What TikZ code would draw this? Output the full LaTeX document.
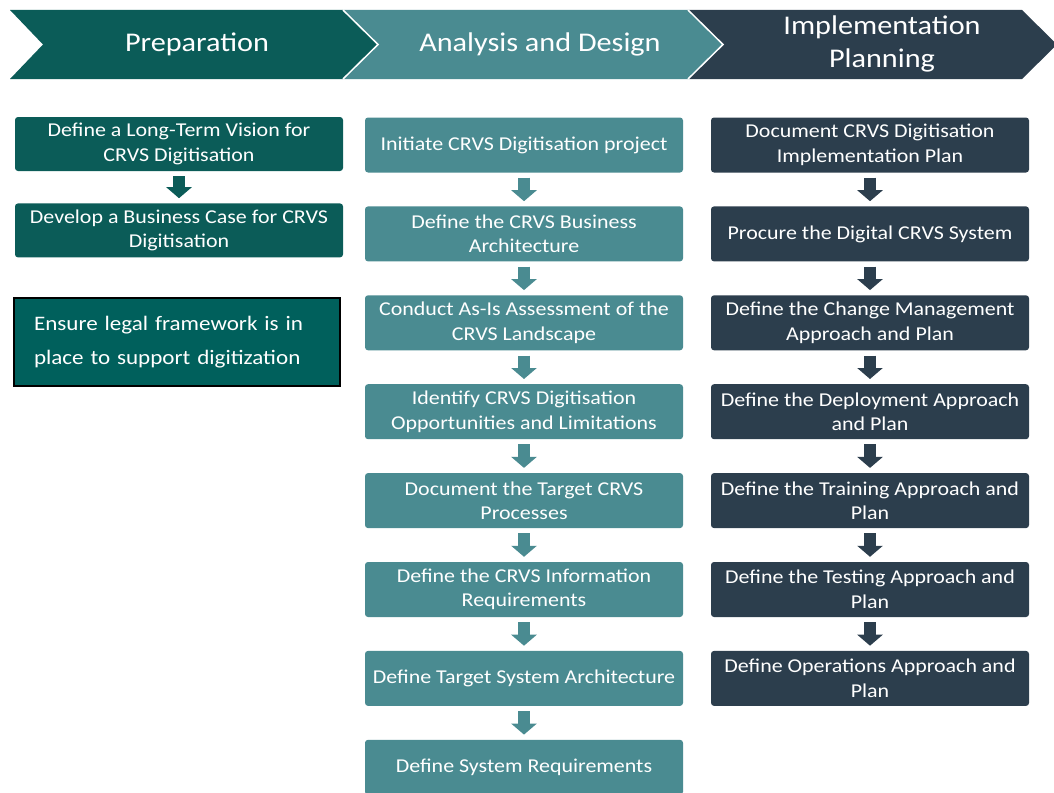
\documentclass[tikz,border=0pt]{standalone}
\usepackage{fontspec}
\setmainfont{Carlito}[FakeStretch=1.12]
\usepackage{xcolor}
\usetikzlibrary{positioning,arrows.meta}
\definecolor{prepcol}{HTML}{0B5C58}
\definecolor{anacol}{HTML}{4A8B91}
\definecolor{implcol}{HTML}{2C3E4D}
\definecolor{legalcol}{HTML}{00605C}

\begin{document}
\begin{tikzpicture}[x=1pt,y=-1pt,
  box/.style={fill=#1,text=white,rounded corners=3pt,minimum width=318pt,minimum height=55pt,
    align=center,inner sep=2pt,font=\fontsize{19.6}{24.5}\selectfont},
  down/.style={draw=#1,line width=12pt,shorten <=5pt,shorten >=5pt,-{Triangle[width=25pt,length=11pt]}},
  head/.style={text=white,align=center,font=\fontsize{27}{33}\selectfont}]
\useasboundingbox (0,0) rectangle (1054,792);
% header chevrons
\fill[prepcol] (10,10)--(343,10)--(378,44.5)--(343,79)--(10,79)--(43,44.5)--cycle;
\fill[anacol] (343,10)--(688,10)--(723,44.5)--(688,79)--(343,79)--(378,44.5)--cycle;
\fill[implcol] (688,10)--(1022,10)--(1057,44.5)--(1022,79)--(688,79)--(723,44.5)--cycle;
\draw[white,line width=1.5pt] (343,10)--(378,44.5)--(343,79) (688,10)--(723,44.5)--(688,79);
\node[head] (hprep) at (197,44) {Preparation};
\node[head] (hana) at (540,44) {Analysis and Design};
\node[head] (himpl) at (882,44) {Implementation\\Planning};
% preparation
\node[box=prepcol,minimum height=54pt,minimum width=328pt] (prep1) at (179,144) {Define a Long-Term Vision for\\CRVS Digitisation};
\node[box=prepcol,minimum height=54pt,minimum width=328pt,below=32pt of prep1] (prep2) {Develop a Business Case for CRVS\\Digitisation};
\draw[down=prepcol] (prep1.south)--(prep2.north);
\node[fill=legalcol,draw=black,line width=1.5pt,text=white,minimum width=326pt,minimum height=88pt,
  align=left,text width=286pt,font=\fontsize{20.6}{34}\selectfont] (legal) at (177,342)
  {Ensure legal framework is in\\place to support digitization};
% analysis and design
\node[box=anacol] (ana1) at (524,145) {Initiate CRVS Digitisation project};
\node[box=anacol,below=33.5pt of ana1] (ana2) {Define the CRVS Business\\Architecture};
\node[box=anacol,below=33.5pt of ana2] (ana3) {Conduct As-Is Assessment of the\\CRVS Landscape};
\node[box=anacol,below=33.5pt of ana3] (ana4) {Identify CRVS Digitisation\\Opportunities and Limitations};
\node[box=anacol,below=33.5pt of ana4] (ana5) {Document the Target CRVS\\Processes};
\node[box=anacol,below=33.5pt of ana5] (ana6) {Define the CRVS Information\\Requirements};
\node[box=anacol,below=33.5pt of ana6] (ana7) {Define Target System Architecture};
\node[box=anacol,below=33.5pt of ana7] (ana8) {Define System Requirements};
\foreach \a/\b in {1/2,2/3,3/4,4/5,5/6,6/7,7/8}
  \draw[down=anacol] (ana\a.south)--(ana\b.north);
% implementation planning
\node[box=implcol] (impl1) at (870,145) {Document CRVS Digitisation\\Implementation Plan};
\node[box=implcol,below=33.5pt of impl1] (impl2) {Procure the Digital CRVS System};
\node[box=implcol,below=33.5pt of impl2] (impl3) {Define the Change Management\\Approach and Plan};
\node[box=implcol,below=33.5pt of impl3] (impl4) {Define the Deployment Approach\\and Plan};
\node[box=implcol,below=33.5pt of impl4] (impl5) {Define the Training Approach and\\Plan};
\node[box=implcol,below=33.5pt of impl5] (impl6) {Define the Testing Approach and\\Plan};
\node[box=implcol,below=33.5pt of impl6] (impl7) {Define Operations Approach and\\Plan};
\foreach \a/\b in {1/2,2/3,3/4,4/5,5/6,6/7}
  \draw[down=implcol] (impl\a.south)--(impl\b.north);
\end{tikzpicture}
\end{document}
